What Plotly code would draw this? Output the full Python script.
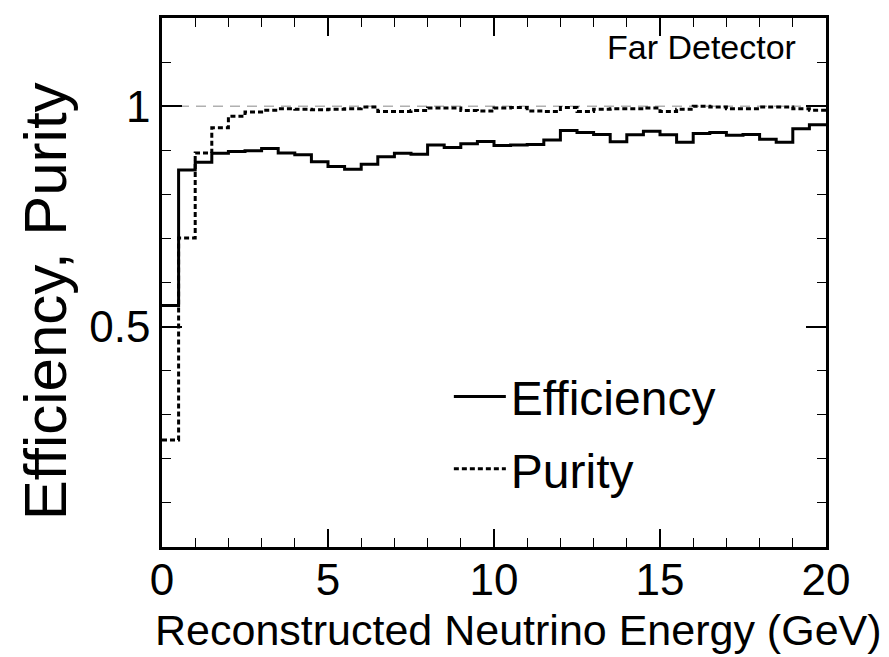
import plotly.graph_objects as go

# bin edges (GeV), 0.5 GeV bins from 0 to 20
bin_edges = [0.0, 0.5, 1.0, 1.5, 2.0, 2.5, 3.0, 3.5, 4.0, 4.5, 5.0, 5.5, 6.0, 6.5, 7.0, 7.5,
             8.0, 8.5, 9.0, 9.5, 10.0, 10.5, 11.0, 11.5, 12.0, 12.5, 13.0, 13.5, 14.0, 14.5,
             15.0, 15.5, 16.0, 16.5, 17.0, 17.5, 18.0, 18.5, 19.0, 19.5, 20.0]

efficiency = [0.548, 0.855, 0.873, 0.893, 0.897, 0.899, 0.904, 0.894, 0.890, 0.874,
              0.863, 0.857, 0.868, 0.885, 0.893, 0.891, 0.912, 0.906, 0.915, 0.920,
              0.911, 0.912, 0.913, 0.923, 0.945, 0.940, 0.936, 0.919, 0.935, 0.943,
              0.935, 0.918, 0.938, 0.940, 0.934, 0.936, 0.925, 0.918, 0.949, 0.958]

purity = [0.243, 0.701, 0.894, 0.951, 0.977, 0.987, 0.991, 0.994, 0.993, 0.992,
          0.993, 0.994, 0.998, 0.988, 0.988, 0.990, 0.996, 0.996, 0.990, 0.989,
          0.996, 0.997, 0.989, 0.988, 0.997, 0.988, 0.993, 0.994, 0.994, 0.996,
          0.988, 0.993, 1.000, 0.998, 0.994, 0.994, 0.998, 0.998, 0.994, 0.991]

ref_line_x = [0, 20]
ref_line_y = [1.0, 1.0]

x_ticks = [0, 5, 10, 15, 20]
y_ticks = [0, 0.5, 1]
y_ticktext = ["", "0.5", "1"]

FONT = "Liberation Sans, Arial, Helvetica, sans-serif"

fig = go.Figure()

fig.add_trace(go.Scatter(x=ref_line_x, y=ref_line_y, mode="lines",
                         line=dict(color="#b0b0b0", width=1.5, dash="10px,7px"),
                         showlegend=False, hoverinfo="skip"))

fig.add_trace(go.Scatter(x=bin_edges, y=efficiency + [efficiency[-1]], mode="lines",
                         line=dict(color="black", width=3, shape="hv"),
                         name="Efficiency", legendgroup="eff"))

fig.add_trace(go.Scatter(x=bin_edges, y=purity + [purity[-1]], mode="lines",
                         line=dict(color="black", width=3, shape="hv", dash="5px,3px"),
                         name="Purity", legendgroup="pur"))

fig.update_layout(
    width=881, height=649,
    margin=dict(l=154, r=63, t=7, b=110),
    paper_bgcolor="white", plot_bgcolor="white",
    font=dict(family=FONT, color="black"),
    showlegend=True,
    legend=dict(x=0.432, y=0.356, xanchor="left", yanchor="top",
                font=dict(size=48, family=FONT), bgcolor="rgba(0,0,0,0)",
                tracegroupgap=7, itemwidth=52),
    xaxis=dict(range=[0, 20], tickvals=x_ticks, ticks="inside", ticklen=18, tickwidth=1.5,
               tickcolor="black", showline=True, linecolor="black", linewidth=2.5,
               mirror="allticks", showgrid=False, zeroline=False,
               tickfont=dict(size=44, family=FONT), ticklabelstandoff=-8,
               minor=dict(dtick=1, ticks="inside", ticklen=9, tickwidth=1.2, tickcolor="black",
                          showgrid=False)),
    yaxis=dict(range=[0, 1.2], tickvals=y_ticks, ticktext=y_ticktext, ticks="inside",
               ticklen=20, tickwidth=1.5, tickcolor="black", showline=True, linecolor="black",
               linewidth=2.5, mirror="allticks", showgrid=False, zeroline=False,
               tickfont=dict(size=44, family=FONT), ticklabelstandoff=0,
               minor=dict(dtick=0.1, ticks="inside", ticklen=9, tickwidth=1.2,
                          tickcolor="black", showgrid=False)),
    annotations=[
        dict(text="Reconstructed Neutrino Energy (GeV)", xref="paper", yref="paper",
             x=1.087, y=-0.107, xanchor="right", yanchor="top", showarrow=False,
             font=dict(size=43, family=FONT)),
        dict(text="Efficiency, Purity", xref="paper", yref="paper",
             x=-0.175, y=0.464, xanchor="center", yanchor="middle", textangle=-90,
             showarrow=False, font=dict(size=60, family=FONT)),
        dict(text="Far Detector", xref="paper", yref="paper",
             x=0.958, y=0.946, xanchor="right", yanchor="middle", showarrow=False,
             font=dict(size=34, family=FONT)),
    ],
)

fig.write_html("out.html")
